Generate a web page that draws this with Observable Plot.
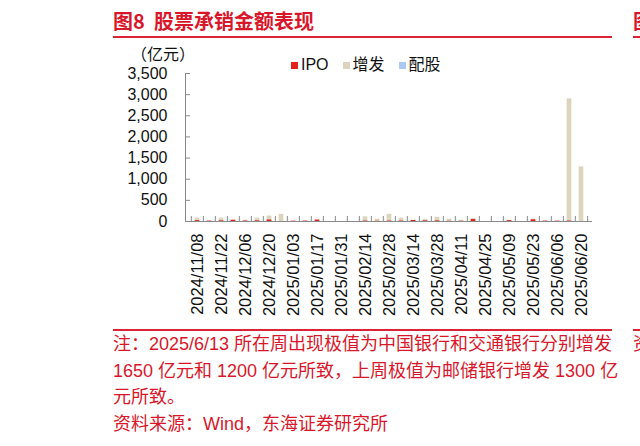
<!DOCTYPE html>
<html><head><meta charset="utf-8">
<script src="https://cdn.jsdelivr.net/npm/d3@7"></script>
<script src="https://cdn.jsdelivr.net/npm/@observablehq/plot@0.6"></script>
<style>
html,body{margin:0;padding:0;background:#fff;width:640px;height:446px;overflow:hidden;position:relative;font-family:"Liberation Sans","Noto Sans CJK SC",sans-serif;}
.abs{position:absolute;white-space:nowrap;}
.title{left:113px;top:10px;font:700 20px/22px "Noto Sans CJK SC",sans-serif;color:#d9172b;}
.rule{height:2px;background:#dc2436;}
.unit{left:131px;top:43px;font:16px/20px "Noto Sans CJK SC",sans-serif;color:#111;}
.legend{left:291px;top:55px;font:16px/20px "Liberation Sans","Noto Sans CJK SC",sans-serif;color:#111;display:flex;align-items:center;}
.legend .item{display:flex;align-items:center;margin-right:14px;}
.legend .sw{display:inline-block;width:7px;height:7px;margin-right:3px;}
.note{left:113px;top:331px;font:18px/26.5px "Liberation Sans","Noto Sans CJK SC",sans-serif;color:#d9172b;}
#chart{position:absolute;left:0;top:0;}
</style></head>
<body>
<div class="abs title">图8&nbsp;&nbsp;股票承销金额表现</div>
<div class="abs rule" style="left:113px;top:36px;width:499px;"></div>
<div class="abs title" style="left:633px;">图</div>
<div class="abs rule" style="left:633px;top:36px;width:20px;"></div>
<div id="chart"></div>
<div class="abs unit">（亿元）</div>
<div class="abs legend" id="legend"></div>
<div class="abs rule" style="left:113px;top:329px;width:499px;height:1.5px;"></div>
<div class="abs rule" style="left:633px;top:329px;width:20px;height:1.5px;"></div>
<div class="abs note">注：2025/6/13 所在周出现极值为中国银行和交通银行分别增发<br>1650 亿元和 1200 亿元所致，上周极值为邮储银行增发 1300 亿<br>元所致。<br>资料来源：Wind，东海证券研究所</div>
<div class="abs note" style="left:633px;">资</div>
<script>
const dates = ["2024/11/08","2024/11/15","2024/11/22","2024/11/29","2024/12/06","2024/12/13","2024/12/20","2024/12/27",
  "2025/01/03","2025/01/10","2025/01/17","2025/01/24","2025/01/31","2025/02/07","2025/02/14","2025/02/21","2025/02/28",
  "2025/03/07","2025/03/14","2025/03/21","2025/03/28","2025/04/04","2025/04/11","2025/04/18","2025/04/25",
  "2025/05/02","2025/05/09","2025/05/16","2025/05/23","2025/05/30","2025/06/06","2025/06/13","2025/06/20"];
const ipo    = [20,10,15,30,10,15,35,0, 8,10,35,0,0,0,10,5,10, 10,25,15,15,5,5,45,0, 0,20,0,40,10,8,10,0];
const zengfa = [80,0,80,30,30,80,130,170, 0,0,0,0,0,0,110,55,170, 80,30,50,100,55,30,70,0, 0,30,0,60,0,10,2900,1290];
const peigu  = [0,0,0,0,0,0,0,0, 0,0,0,0,0,0,0,0,0, 0,0,0,0,0,0,0,0, 0,0,0,0,0,0,0,0];
const labelDates = dates.filter((d, i) => i % 2 === 0);
const yTicks = [0, 500, 1000, 1500, 2000, 2500, 3000, 3500];
const seriesNames = ["IPO", "增发", "配股"];
const seriesColors = ["#e3201b", "#ddd4bd", "#a9c9f4"];

const rows = dates.map((d, i) => ({date: d, ipo: ipo[i], zengfa: zengfa[i], peigu: peigu[i]}));
const W = 640, H = 325, mL = 185, mR = 48, mT = 73, mB = 104;
const step = (W - mL - mR) / dates.length;
const barW = 5;
const ins = (step - barW) / 2;
const tickLen = 5 * 3500 / (H - mT - mB);
const axisColor = "#8a8a8a";

const chart = Plot.plot({
  width: W, height: H,
  marginLeft: mL, marginRight: mR, marginTop: mT, marginBottom: mB,
  style: {fontFamily: "Liberation Sans, Arial, sans-serif", fontSize: "16px", color: "#111", background: "transparent"},
  x: {type: "band", domain: dates, padding: 0, label: null},
  y: {domain: [0, 3500], label: null},
  marks: [
    Plot.barY(rows, {x: "date", y: "zengfa", fill: seriesColors[1], insetLeft: ins, insetRight: ins}),
    Plot.barY(rows, {x: "date", y: "ipo", fill: seriesColors[0], insetLeft: ins, insetRight: ins}),
    Plot.barY(rows, {x: "date", y: "peigu", fill: seriesColors[2], insetLeft: ins, insetRight: ins}),
    Plot.ruleX(dates, {x: d => d, y1: 0, y2: tickLen, dx: -step / 2, stroke: axisColor}),
    Plot.ruleX([dates[dates.length - 1]], {x: d => d, y1: 0, y2: tickLen, dx: step / 2, stroke: axisColor}),
    Plot.ruleY([0], {stroke: axisColor}),
    Plot.frame({anchor: "left", stroke: axisColor}),
    Plot.axisY({ticks: yTicks, tickFormat: d3.format(","), tickSize: -5, tickPadding: 23, stroke: axisColor, label: null}),
    Plot.axisX({ticks: labelDates, tickRotate: -90, tickSize: 0, tickPadding: 12, fontSize: 16.5, label: null})
  ]
});
document.getElementById("chart").appendChild(chart);

const legend = document.getElementById("legend");
seriesNames.forEach((name, i) => {
  const item = document.createElement("span");
  item.className = "item";
  const sw = document.createElement("span");
  sw.className = "sw";
  sw.style.background = seriesColors[i];
  item.appendChild(sw);
  item.appendChild(document.createTextNode(name));
  legend.appendChild(item);
});
</script>
</body></html>
